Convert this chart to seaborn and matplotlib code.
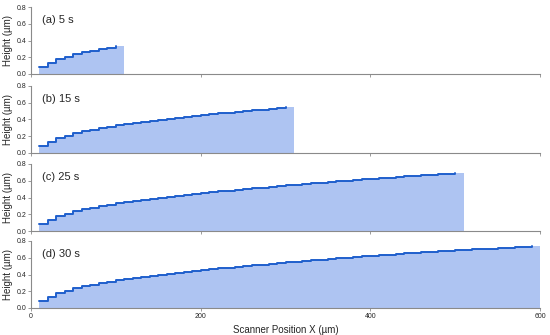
import matplotlib
matplotlib.use("Agg")
import matplotlib.pyplot as plt
import seaborn as sns
import pandas as pd

sns.set_style("white")
plt.rcParams['font.family'] = ['Liberation Sans', 'DejaVu Sans']

# Data: step profile height (µm) at scanner position X (µm), 10 µm steps
positions = list(range(10, 600, 10))
heights = [0.085, 0.135, 0.175, 0.207, 0.235, 0.258, 0.279, 0.298, 0.316, 0.332,
           0.347, 0.361, 0.374, 0.387, 0.399, 0.411, 0.422, 0.433, 0.443, 0.453,
           0.463, 0.473, 0.482, 0.492, 0.501, 0.510, 0.519, 0.528, 0.537, 0.546,
           0.554, 0.563, 0.571, 0.579, 0.587, 0.595, 0.602, 0.610, 0.617, 0.624,
           0.631, 0.638, 0.644, 0.651, 0.657, 0.664, 0.670, 0.676, 0.682, 0.688,
           0.694, 0.699, 0.705, 0.710, 0.716, 0.721, 0.726, 0.731, 0.736]
panel_labels = ["(a) 5 s", "(b) 15 s", "(c) 25 s", "(d) 30 s"]
panel_end_x = [100, 300, 500, 590]
step_width = 10
y_ticks = [0.0, 0.2, 0.4, 0.6, 0.8]
x_ticks = [0, 200, 400, 600]

line_color = "#1f5fcc"
fill_color = "#aec4f2"
spine_color = "#8a8a8a"

W, H = 550, 335
fig = plt.figure(figsize=(W / 100, H / 100), dpi=100)

tops = [7, 86, 164, 241]
panel_h = 67
left_px, right_px = 31, 540

for i, (lab, xend) in enumerate(zip(panel_labels, panel_end_x)):
    top = tops[i]
    ax = fig.add_axes([left_px / W, 1 - (top + panel_h) / H,
                       (right_px - left_px) / W, panel_h / H])
    df = pd.DataFrame({"x": positions, "h": heights})
    df = df[df["x"] <= xend]
    xs = list(df["x"]) + [xend + step_width]
    hs = list(df["h"]) + [df["h"].iloc[-1]]
    ax.fill_between(xs, 0, hs, step="post", color=fill_color, lw=0)
    sns.lineplot(data=df, x="x", y="h", ax=ax, drawstyle="steps-post",
                 color=line_color, lw=1.4, estimator=None)
    ax.set_xlim(0, 600)
    ax.set_ylim(0, 0.8)
    ax.set_yticks(y_ticks)
    ax.set_yticklabels([f"{v:.1f}" for v in y_ticks])
    ax.set_xticks(x_ticks)
    if i == 3:
        ax.set_xticklabels([str(v) for v in x_ticks])
        ax.set_xlabel("Scanner Position X (µm)", fontsize=7, labelpad=4)
    else:
        ax.set_xticklabels([])
        ax.set_xlabel("")
    ax.set_ylabel("Height (µm)", fontsize=7, labelpad=2)
    ax.tick_params(axis="both", labelsize=5, length=2, width=0.6,
                   color=spine_color, pad=1.5, direction="out",
                   left=True, bottom=True)
    for s in ["top", "right"]:
        ax.spines[s].set_visible(False)
    for s in ["left", "bottom"]:
        ax.spines[s].set_color(spine_color)
        ax.spines[s].set_linewidth(0.8)
    ax.text(13, 0.65, lab, fontsize=8, va="center", ha="left")

fig.savefig("out.png", dpi=100)
